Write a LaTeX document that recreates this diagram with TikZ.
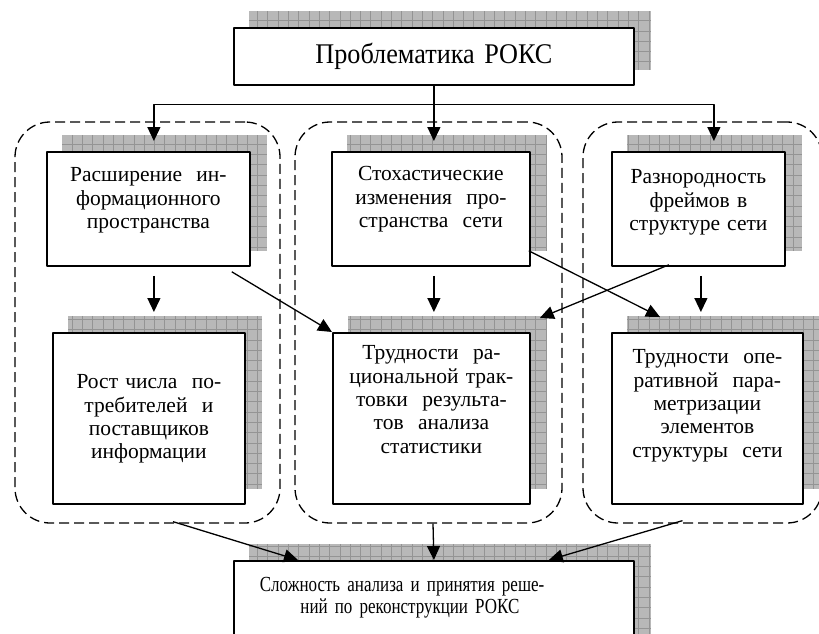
\documentclass[tikz,border=0pt]{standalone}
\usepackage{fontspec}
\setmainfont{Liberation Serif}
\newfontfamily\titlefamily[FakeStretch=0.92]{Liberation Serif}
\newfontfamily\botfamily[FakeStretch=0.79]{Liberation Serif}
\usetikzlibrary{arrows.meta,backgrounds}
\newcommand{\blokfont}{\fontsize{21.5}{23.3}\selectfont}
\newcommand{\botfont}{\botfamily\fontsize{21.5}{22}\selectfont}
\newcommand{\titlefont}{\titlefamily\fontsize{28.5}{32}\selectfont}
\begin{document}
\begin{tikzpicture}[x=1pt,y=-1pt,line join=round,>={Triangle[length=14pt,width=13pt]}]
	\tikzset{blok/.style={draw,line width=1.8pt,fill=white,align=center,inner xsep=3pt,inner ysep=0pt,anchor=north west,font=\blokfont}}
	\tikzset{grp/.style={draw,line width=1.3pt,rounded corners=35pt,dash pattern=on 10pt off 5pt,minimum height=401}}
	\tikzset{arr/.style={->,line width=1.3pt}}
	\useasboundingbox (0,0) rectangle (819,634);
	% boxes
	\node[blok,text width=394,text height=36,text depth=21,font=\titlefont] (top) at (233,27) {Проблематика РОКС};
	\node[blok,text width=197,text height=30,text depth=84] (b1) at (46,151) {Расширение\ \ ин-\\формационного\\пространства};
	\node[blok,text width=192,text height=29,text depth=85] (b2) at (331,151) {Стохастические\\изменения\ \ про-\\странства\ \ сети};
	\node[blok,text width=167,text height=32,text depth=82] (b3) at (611,151) {Разнородность\\фреймов в\\структуре сети};
	\node[blok,text width=186,text height=56,text depth=115] (b4) at (52,332) {Рост числа\ \ по-\\требителей\ \ и\\поставщиков\\информации};
	\node[blok,text width=191,text height=27,text depth=144] (b5) at (332,332) {Трудности\ \ ра-\\циональной трак-\\товки\ \ результа-\\тов\ \ анализа\\статистики};
	\node[blok,text width=185,text height=31,text depth=140] (b6) at (611,332) {Трудности\ \ опе-\\ративной\ \ пара-\\метризации\\элементов\\структуры\ \ сети};
	\node[blok,text width=394,text height=31,text depth=70,font=\botfont] (bot) at (233,560) {\hspace*{-54pt}\makebox[294pt][s]{Сложность анализа и принятия реше-}\\\hspace*{-48pt}ний по реконструкции РОКС};
	% groups and shadows
	\begin{scope}[on background layer]
		\node[grp,minimum width=265] (g1) at (147.5,322.5) {};
		\node[grp,minimum width=267] (g2) at (428.5,322.5) {};
		\node[grp,minimum width=239] (g3) at (702.5,322.5) {};
		\foreach \n in {top,b1,b2,b3,b4,b5,b6,bot}{
			\begin{scope}
				\clip ([shift={(16,-16)}]\n.south west) rectangle ([shift={(16,-16)}]\n.north east);
				\fill[black!28] ([shift={(16,-16)}]\n.south west) rectangle ([shift={(16,-16)}]\n.north east);
				\draw[black!42,line width=0.7pt,step=10.3pt] ([shift={(16,-16)}]\n.south west) grid ([shift={(16,-16)}]\n.north east);
			\end{scope}
		}
	\end{scope}
	% arrows
	\coordinate (split) at ([shift={(0,19)}]top.south);
	\draw[line width=1.3pt] (top.south) -- (split);
	\draw[arr,shorten >=10pt] (split) -| ([shift={(5.5,0)}]b1.north);
	\draw[arr,shorten >=10pt] (split) -- ([shift={(3,0)}]b2.north);
	\draw[arr,shorten >=10pt] (split) -| ([shift={(15.5,0)}]b3.north);
	\draw[arr,shorten <=9pt,shorten >=20pt] ([shift={(5.5,0)}]b1.south) -- ([shift={(5.5,0)}]b1.south |- b4.north);
	\draw[arr,shorten <=9pt,shorten >=20pt] ([shift={(3,0)}]b2.south) -- ([shift={(3,0)}]b2.south |- b5.north);
	\draw[arr,shorten <=9pt,shorten >=20pt] ([shift={(2.5,0)}]b3.south) -- ([shift={(2.5,0)}]b3.south |- b6.north);
	\draw[arr] ([shift={(-19,5)}]b1.south east) -- (b5.north west);
	\draw[arr] ([shift={(-2,-16)}]b2.south east) -- ([shift={(49,-15)}]b6.north west);
	\draw[arr] ([shift={(-29.5,-2)}]b3.south) -- ([shift={(9,-14)}]b5.north east);
	\draw[arr] ([shift={(25.5,-2)}]g1.south) -- ([shift={(65,0)}]bot.north west);
	\draw[arr] ([shift={(4.5,0)}]g2.south) -- (bot.north);
	\draw[arr] ([shift={(-20,-3)}]g3.south) -- ([shift={(-86,0)}]bot.north east);
\end{tikzpicture}
\end{document}
